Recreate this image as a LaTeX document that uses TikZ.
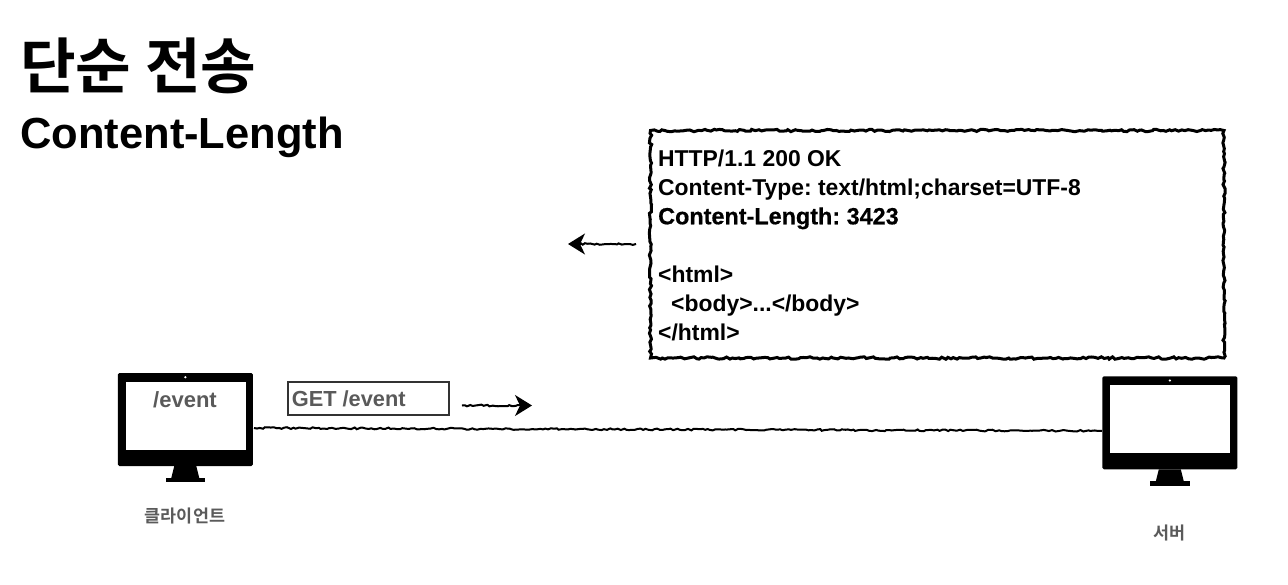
\documentclass[tikz,border=0pt]{standalone}
\usepackage{fontspec}
\setmainfont{Liberation Sans}
\newfontfamily\strongfont[FakeBold=0.6]{Liberation Sans Bold}
\newfontfamily\cjkbold[BoldFont={* Bold}]{Noto Sans CJK KR}
\usetikzlibrary{decorations.pathmorphing,arrows.meta,calc}
\definecolor{labelgray}{HTML}{5A5A5A}
\frenchspacing
\tikzset{
  rough/.style={decorate,decoration={random steps,segment length=2.8pt,amplitude=0.9pt}},
  roughline/.style={draw=black,line width=0.9pt,line join=round,rough,preaction={draw,line width=2pt}},
  sketchbox/.style={draw=black,line width=1.2pt,line join=round,rough,
    decoration={random steps,segment length=3pt,amplitude=1.2pt},preaction={draw,line width=3pt}},
  sketcharrow/.style={draw=black,line width=1.6pt,-{Stealth[length=17pt,width=21pt,inset=5pt]}},
  monbody/.style={draw=none,fill=black,rounded corners=1.5pt},
  monscreen/.style={fill=white,draw=none},
  labeltext/.style={text=labelgray,inner sep=0pt,font=\bfseries},
  koreanlabel/.style={text=labelgray,inner sep=0pt,font=\cjkbold\bfseries\fontsize{17.4}{19}\selectfont},
}
\newcommand{\monitor}[3]{%
  % #1 name, #2 left x, #3 top y
  \fill[monbody] (#2,#3) rectangle ++(135,93);
  \fill[monscreen] ($(#2,#3)+(7.7,8.5)$) rectangle ++(120,68.5);
  \fill[white] ($(#2,#3)+(67.6,4.2)$) circle (1.2);
  \fill[black] ($(#2,#3)+(56.5,93)$) -- ++(22,0) -- ++(3,12) -- ++(-28,0) -- cycle;
  \fill[black] ($(#2,#3)+(48,105)$) rectangle ++(39.5,4.4);
  \coordinate (#1) at ($(#2,#3)+(67.5,0)$);
}
\begin{document}
\begin{tikzpicture}[x=1pt,y=-1pt]
\pgfmathsetseed{42}
\useasboundingbox (0,0) rectangle (1288,584);

\node[anchor=west,inner sep=0pt,font=\cjkbold\bfseries\fontsize{60.5}{64}\selectfont] (title) at (20,66) {단순 전송};
\node[anchor=base west,inner sep=0pt,font=\bfseries\fontsize{43.5}{46}\selectfont] (subtitle) at (20,148.5) {Content-Length};

\monitor{clienttop}{117.8}{373}
\monitor{servertop}{1102.3}{376.3}

\node[labeltext,font=\bfseries\fontsize{22}{24}\selectfont,anchor=base] (clientpath) at (185,407) {/event};
\node[koreanlabel] (clientlabel) at (185,516) {클라이언트};
\node[koreanlabel] (serverlabel) at (1169,533) {서버};

\node[draw=black!80,line width=1.6pt,minimum width=161pt,minimum height=33pt,inner sep=0pt,
  text=labelgray,font=\bfseries\fontsize{21.8}{24}\selectfont,
  text depth=0pt,anchor=north west,align=left] (req) at (287,381) {\makebox[153pt][l]{GET /event}};

\coordinate (linea) at (254,428);
\coordinate (lineb) at (1102,431);
\draw[roughline] (linea) -- (lineb);

\coordinate (reqa) at (462,405.5);
\coordinate (reqb) at (532,405.5);
\draw[roughline] (reqa) -- ($(reqb)+(-8,0)$);
\draw[sketcharrow] ($(reqb)+(-12,0)$) -- (reqb);

\coordinate (resa) at (636,244);
\coordinate (resb) at (568,244);
\draw[roughline] (resa) -- ($(resb)+(8,0)$);
\draw[sketcharrow] ($(resb)+(12,0)$) -- (resb);

\draw[sketchbox] (650.5,130.5) -- (1224,130.5) -- (1224,358) -- (650.5,358) -- cycle;
\node[anchor=north west,inner sep=0pt,align=left,font=\bfseries\fontsize{22.9}{29}\selectfont] (response) at (658,149.5) {%
HTTP/1.1 200 OK\\
Content-Type: text/html;charset=UTF-8\\
{\strongfont\fontsize{23.4}{29}\selectfont Content-Length: 3423}\\
\strut\\
<html>\\
\hspace*{13pt}<body>...</body>\\
</html>};
\end{tikzpicture}
\end{document}
